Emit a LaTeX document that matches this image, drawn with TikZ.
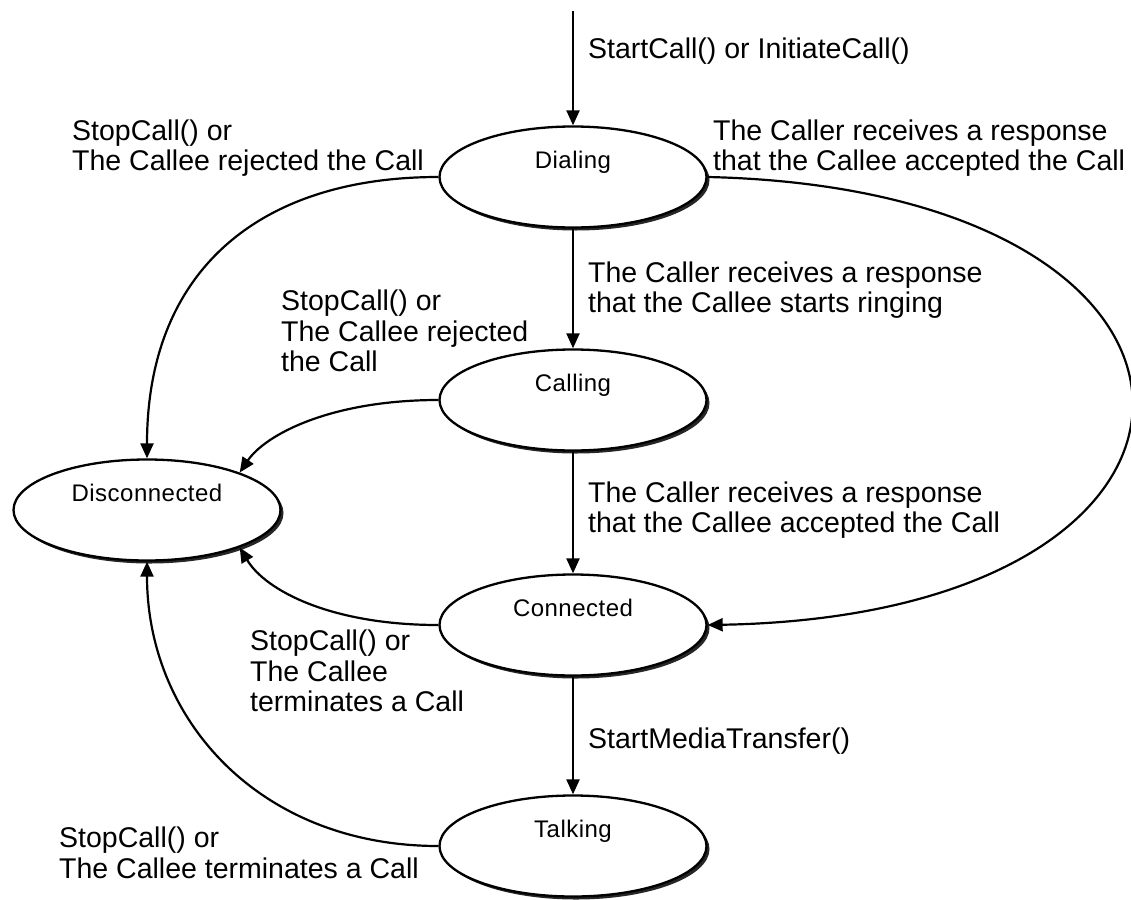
\documentclass[tikz,border=0pt]{standalone}
\usepackage{fontspec}
\setmainfont{Liberation Sans}
\newfontfamily\stfont[LetterSpace=2]{Liberation Sans}
\usetikzlibrary{shapes.geometric,shadows,arrows.meta}
\begin{document}
\begin{tikzpicture}[x=1pt,y=-1pt,
  state/.style={ellipse, draw, line width=2.3pt, fill=white,
    minimum width=267pt, minimum height=101pt, inner sep=0pt,
    font=\stfont\fontsize{24}{26}\selectfont,
    text height=10pt, text depth=27pt,
    drop shadow={shadow xshift=3pt, shadow yshift=-3pt, fill=black!85, opacity=1}},
  lbl/.style={anchor=west, align=left, inner sep=0pt,
    font=\fontsize{28.5}{30.5}\selectfont},
  edge/.style={line width=2.2pt, -{Triangle[length=15pt,width=13pt]}}]
\useasboundingbox[fill=white] (0,0) rectangle (1131,899);

\node[state] (DI) at (573,177) {Dialing};
\node[state] (CA) at (573,400) {Calling};
\node[state] (CO) at (573,625) {Connected};
\node[state] (TA) at (573,846) {Talking};
\node[state] (DC) at (147,510) {Disconnected};
\coordinate (start) at (573,11);

\draw[edge] (start) -- (DI);
\draw[edge] (DI) -- (CA);
\draw[edge] (CA) -- (CO);
\draw[edge] (CO) -- (TA);
\draw[edge] (DI.west) .. controls (260,177) and (147,270) .. (DC.north);
\draw[edge] (CA.west) .. controls (330,400) and (265,435) .. (DC.22);
\draw[edge] (CO.west) .. controls (330,625) and (265,590) .. (DC.-22);
\draw[edge] (TA.west) .. controls (260,846) and (147,720) .. (DC.south);
\draw[edge] (DI.east) .. controls (1272,190) and (1272,615) .. (CO.east);

\node[lbl] (l1) at (588,51) {StartCall() or InitiateCall()};
\node[lbl] (l2) at (72,148) {StopCall() or\\The Callee rejected the Call};
\node[lbl] (l3) at (713,148) {The Caller receives a response\\that the Callee accepted the Call};
\node[lbl] (l4) at (588,290) {The Caller receives a response\\that the Callee starts ringing};
\node[lbl] (l5) at (281,331) {StopCall() or\\The Callee rejected\\the Call};
\node[lbl] (l6) at (588,510) {The Caller receives a response\\that the Callee accepted the Call};
\node[lbl] (l7) at (250,671) {StopCall() or\\The Callee\\terminates a Call};
\node[lbl] (l8) at (588,741) {StartMediaTransfer()};
\node[lbl] (l9) at (59,853) {StopCall() or\\The Callee terminates a Call};
\end{tikzpicture}
\end{document}
